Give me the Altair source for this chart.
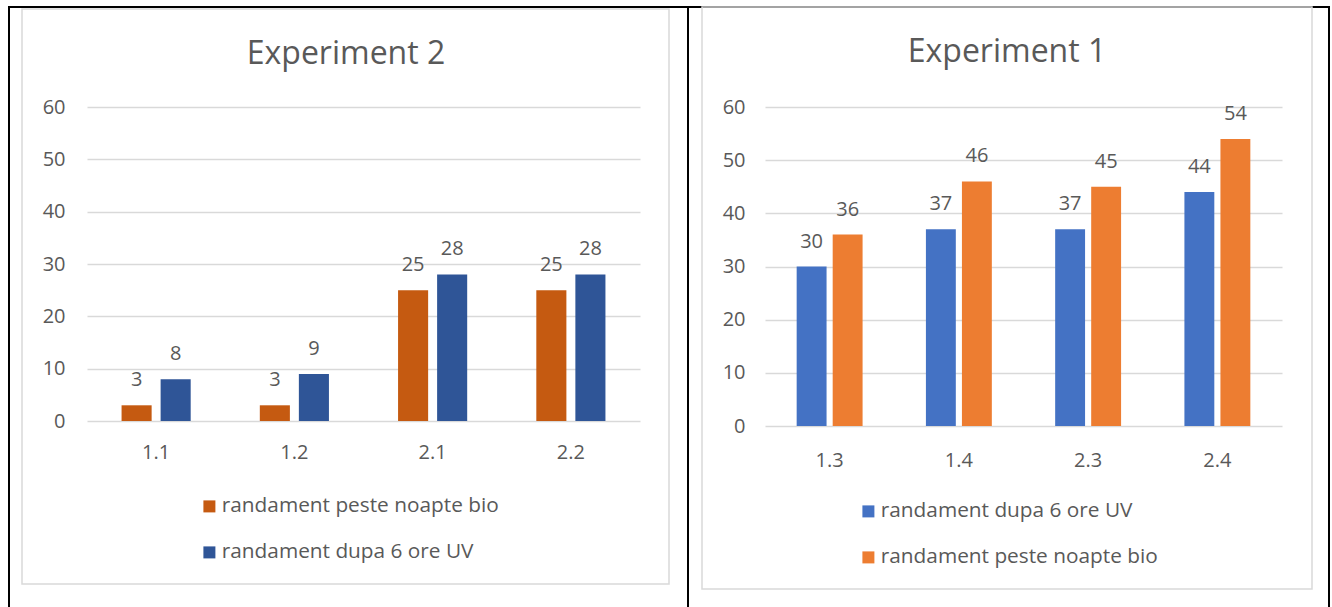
import altair as alt
import pandas as pd

# Series names
S_BIO = "randament peste noapte bio"
S_UV = "randament dupa 6 ore UV"

# Experiment 2 (left panel)
cats_exp2 = ["1.1", "1.2", "2.1", "2.2"]
bio_exp2 = [3, 3, 25, 25]
uv_exp2 = [8, 9, 28, 28]

# Experiment 1 (right panel)
cats_exp1 = ["1.3", "1.4", "2.3", "2.4"]
uv_exp1 = [30, 37, 37, 44]
bio_exp1 = [36, 46, 45, 54]

y_ticks = [0, 10, 20, 30, 40, 50, 60]

TEXT = "#595959"
GRID = "#D9D9D9"
FONT = "Open Sans"


def long_table(cats, series):
    rows = []
    for name, vals in series:
        for c, v in zip(cats, vals):
            rows.append({"cat": c, "series": name, "value": v})
    return pd.DataFrame(rows)


def one():
    return alt.Chart(pd.DataFrame({"k": [0]}))


def panel(df, cats, order, colors, w, h, pad_in, off_in, title, title_x,
          box, legend_xy, label_pad_y, label_pad_x, extras):
    x = alt.X("cat:N", sort=cats,
              scale=alt.Scale(paddingInner=pad_in, paddingOuter=pad_in / 2),
              axis=alt.Axis(title=None, labelAngle=0, domain=False, ticks=False,
                            labelFontSize=20, labelColor=TEXT, labelFont=FONT,
                            labelPadding=label_pad_x))
    xo = alt.XOffset("series:N", sort=order,
                     scale=alt.Scale(domain=order, paddingInner=off_in, paddingOuter=0))
    y = alt.Y("value:Q", scale=alt.Scale(domain=[0, 60], nice=False),
              axis=alt.Axis(title=None, values=y_ticks, domain=False, ticks=False,
                            grid=True, gridColor=GRID, gridWidth=1.5,
                            labelFontSize=20, labelColor=TEXT, labelFont=FONT,
                            labelPadding=label_pad_y))
    color = alt.Color("series:N", sort=order,
                      scale=alt.Scale(domain=order, range=colors),
                      legend=alt.Legend(title=None, orient="none",
                                        legendX=legend_xy[0], legendY=legend_xy[1],
                                        direction="vertical", symbolType="square",
                                        symbolSize=144, symbolStrokeWidth=0,
                                        labelFontSize=20.8, labelColor=TEXT,
                                        labelFont=FONT, labelLimit=0, rowPadding=24,
                                        labelOffset=2, padding=0))

    base = alt.Chart(df)
    bars = base.mark_bar().encode(x=x, xOffset=xo, y=y, color=color)
    labels = base.mark_text(baseline="middle", dy=-25, fontSize=20,
                            color=TEXT, font=FONT).encode(
        x=x, xOffset=xo, y=y, text="value:Q")

    bx0, by0, bx1, by1 = box
    frame = one().mark_rect(fill=None, stroke=GRID, strokeWidth=1.5).encode(
        x=alt.value(bx0), x2=alt.value(bx1), y=alt.value(by0), y2=alt.value(by1))
    ttl = one().mark_text(text=title, fontSize=32, color=TEXT, font=FONT,
                          baseline="middle", align="center").encode(
        x=alt.value(title_x), y=alt.value(by0 + 45))

    layers = [frame, ttl] + extras + [bars, labels]
    return alt.layer(*layers).properties(width=w, height=h)


df2 = long_table(cats_exp2, [(S_BIO, bio_exp2), (S_UV, uv_exp2)])
df1 = long_table(cats_exp1, [(S_UV, uv_exp1), (S_BIO, bio_exp1)])

# Page furniture drawn in the left panel's frame (its plot area starts at 87,107)
OX, OY = 87, 107
page = one().mark_rect(opacity=0).encode(
    x=alt.value(-OX), x2=alt.value(1332 - OX), y=alt.value(-OY), y2=alt.value(607 - OY))
top_line = one().mark_rule(color="black", strokeWidth=2).encode(
    x=alt.value(8 - OX), x2=alt.value(1330 - OX), y=alt.value(7 - OY))
left_line = one().mark_rule(color="black", strokeWidth=2).encode(
    x=alt.value(9 - OX), y=alt.value(7 - OY), y2=alt.value(607 - OY))
mid_line = one().mark_rule(color="black", strokeWidth=2).encode(
    x=alt.value(688 - OX), y=alt.value(7 - OY), y2=alt.value(607 - OY))
right_line = one().mark_rule(color="black", strokeWidth=2).encode(
    x=alt.value(1329 - OX), y=alt.value(7 - OY), y2=alt.value(607 - OY))

left = panel(df2, cats_exp2, [S_BIO, S_UV], ["#C55A11", "#2F5597"],
             553, 314, 0.5, 0.23, "Experiment 2", 346 - OX,
             (22 - OX, 9 - OY, 669 - OX, 584 - OY), (112, 389), 22, 21,
             [page, top_line, left_line, mid_line, right_line])

PX, PY = 765, 108
right = panel(df1, cats_exp1, [S_UV, S_BIO], ["#4472C4", "#ED7D31"],
              517, 319, 0.49, 0.17, "Experiment 1", 1007 - PX,
              (702 - PX, 8 - PY, 1312 - PX, 590 - PY), (93, 394), 20, 24, [])

chart = alt.hconcat(left, right, spacing=PX - (OX + 553), bounds="flush").resolve_scale(
    color="independent", xOffset="independent"
).resolve_legend(color="independent").properties(
    padding=0, background="white", autosize=alt.AutoSizeParams(type="pad")
).configure_view(stroke=None)

chart.save("out.html", embed_options={"renderer": "svg", "actions": False})
